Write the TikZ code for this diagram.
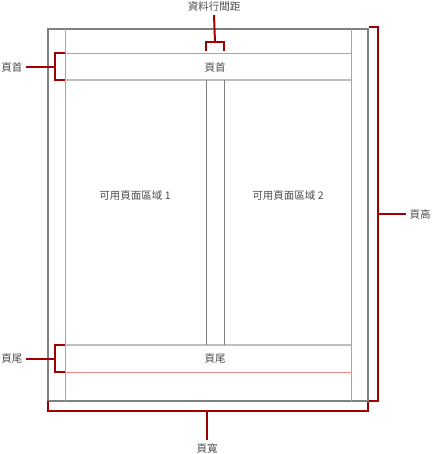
\documentclass[tikz,border=0pt]{standalone}
\usepackage{fontspec}
\setmainfont{Noto Sans CJK TC}
\definecolor{bracered}{RGB}{160,0,0}
\definecolor{marginpink}{RGB}{240,135,135}

\begin{document}
\begin{tikzpicture}[x=1pt,y=-1pt,
  page/.style={draw=black!50,line width=1.3pt},
  margin/.style={draw=marginpink,line width=.7pt},
  band/.style={draw=black!25,line width=1.3pt},
  gutter/.style={draw=black!50,line width=.7pt},
  brace/.style={draw=bracered,line width=2pt},
  lbl/.style={text=black!70,inner sep=3pt,font=\fontsize{10.5}{12}\selectfont}]
  \useasboundingbox (0,0) rectangle (432,454);

  % the page
  \draw[page] (48,29) rectangle (368,401);
  \draw[margin] (65.3,29) -- (65.3,401) (351.3,29) -- (351.3,401);
  \draw[margin] (65.3,53.3) -- (351.3,53.3) (65.3,372.3) -- (351.3,372.3);
  \draw[band] (65.3,80) -- (351.3,80) (65.3,345) -- (351.3,345);
  \draw[gutter] (206.7,80) -- (206.7,345) (224.3,80) -- (224.3,345);

  \node[lbl] (hdr) at (215,67) {頁首};
  \node[lbl] (ftr) at (215,359) {頁尾};
  \node[lbl] (col1) at (135,196) {可用頁面區域 1};
  \node[lbl] (col2) at (288,196) {可用頁面區域 2};

  % labels round the page
  \node[lbl] (hdrlbl) at (12,67) {頁首};
  \node[lbl] (ftrlbl) at (12,359) {頁尾};
  \node[lbl] (gaplbl) at (214,7) {資料行間距};
  \node[lbl] (hgtlbl) at (420,214) {頁高};
  \node[lbl] (wdtlbl) at (207,448) {頁寬};

  % brackets
  \draw[brace] (65,53.3) -- (55,53.3) -- (55,80) -- (65,80);
  \coordinate (hdrtip) at (55,67);
  \draw[brace] (hdrtip) -- (hdrlbl.east);

  \draw[brace] (65,345) -- (55,345) -- (55,372.3) -- (65,372.3);
  \coordinate (ftrtip) at (55,359);
  \draw[brace] (ftrtip) -- (ftrlbl.east);

  \draw[brace] (206,51) -- (206,42.3) -- (224.3,42.3) -- (224.3,51);
  \coordinate (gaptip) at (215,42.3);
  \draw[brace] (gaptip) -- (gaplbl.south);

  \draw[brace] (369,27.3) -- (377.7,27.3) -- (377.7,401) -- (369,401);
  \coordinate (hgttip) at (377.7,214);
  \draw[brace] (hgttip) -- (hgtlbl.west);

  \draw[brace] (48,401) -- (48,410.7) -- (368,410.7) -- (368,402);
  \coordinate (wdttip) at (206.7,410.7);
  \draw[brace] (wdttip) -- (wdttip |- wdtlbl.north);
\end{tikzpicture}
\end{document}
